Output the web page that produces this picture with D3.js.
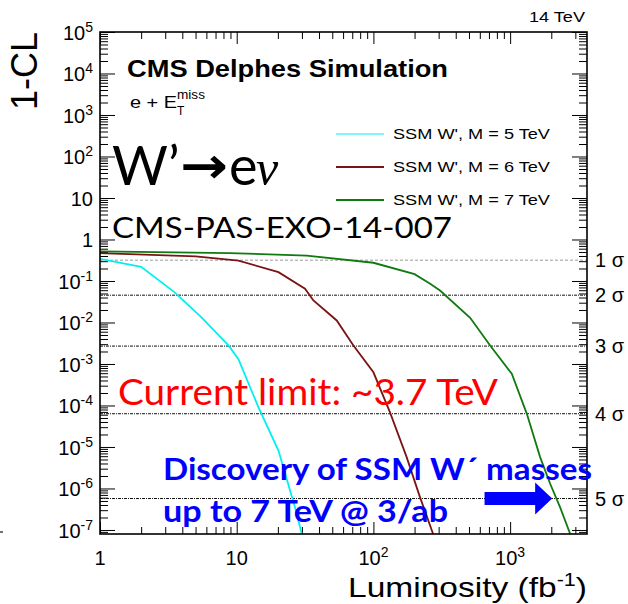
<!DOCTYPE html>
<html>
<head>
<meta charset="utf-8">
<script src="https://cdn.jsdelivr.net/npm/d3@7"></script>
<style>
  body { margin: 0; background: #fff; }
  svg { display: block; }
</style>
</head>
<body>
<svg id="chart" width="628" height="604"></svg>
<script>
// ---- data ----
const lumi5 = [1, 2.0, 3.5, 5.5, 8.7, 10.3, 14.4, 20.2, 26.7, 29.9];
const cl5 = [0.34, 0.22, 0.054, 0.0134, 0.0028, 0.0013, 9.1e-5, 8.2e-6, 3.5e-7, 8.1e-8];

const lumi6 = [1, 5, 10.3, 20.2, 31.6, 36.4, 53.9, 71.4, 100, 132, 175, 219, 273];
const cl6 = [0.47, 0.39, 0.31, 0.163, 0.065, 0.034, 0.0112, 0.0028, 6.3e-4, 6.9e-5, 5.7e-6, 6.2e-7, 8.1e-8];

const lumi7 = [1, 8.9, 32.5, 100, 200, 260, 307, 510, 714, 1028, 1325, 1657, 1962, 2322, 2748];
const cl7 = [0.52, 0.47, 0.41, 0.275, 0.146, 0.086, 0.059, 0.013, 0.0028, 5.8e-4, 6.3e-5, 5.7e-6, 1.3e-6, 3.5e-7, 8.1e-8];

const seriesNames = ["SSM W', M = 5 TeV", "SSM W', M = 6 TeV", "SSM W', M = 7 TeV"];
const seriesColors = ["#00f0f0", "#7a1414", "#0f7a0f"];

const sigmaLabels = ["1 σ", "2 σ", "3 σ", "4 σ", "5 σ"];
const sigmaValues = [0.3173, 0.0455, 0.0027, 6.33e-5, 5.73e-7];

const xMajor = [1, 10, 100, 1000];
const yExponents = [5, 4, 3, 2, 1, 0, -1, -2, -3, -4, -5, -6, -7];

// discovery arrow (data space): from / to luminosity along the 5 sigma line
const arrowLumi = [650, 2030];

// ---- scales ----
const svg = d3.select("#chart");
const plotLeft = 100, plotRight = 587, plotTop = 32, plotBottom = 534;
const x = d3.scaleLog().domain([1, 3650]).range([plotLeft, plotRight]);
const y = d3.scaleLog().domain([8e-8, 1e5]).range([plotBottom, plotTop]);

const xMinor = [];
for (let e = 0; e <= 3; e++)
  for (let k = 2; k <= 9; k++) {
    const v = k * Math.pow(10, e);
    if (v < 3650) xMinor.push(v);
  }
const yMinor = [];
for (let e = -8; e <= 4; e++)
  for (let k = 2; k <= 9; k++) {
    const v = k * Math.pow(10, e);
    if (v > 8e-8 && v < 1e5) yMinor.push(v);
  }

const fontRoot = "'Liberation Sans', Arial, Helvetica, sans-serif";
const fontSlide = "Lato, 'Open Sans', sans-serif";

svg.append("defs").append("clipPath").attr("id", "plotClip")
  .append("rect").attr("x", plotLeft).attr("y", plotTop)
  .attr("width", plotRight - plotLeft).attr("height", plotBottom - plotTop);

// ---- ticks (ROOT style, inward on all four sides) ----
function tickAxis(axis, transform) {
  const g = svg.append("g").attr("transform", transform).call(axis);
  g.select(".domain").remove();
  g.selectAll(".tick line").attr("stroke", "#000").attr("stroke-width", 1);
  g.selectAll(".tick text").remove();
  return g;
}
const yMajorVals = yExponents.map(e => Math.pow(10, e));
tickAxis(d3.axisLeft(y).tickValues(yMajorVals).tickSize(-15).tickSizeOuter(0), `translate(${plotLeft},0)`);
tickAxis(d3.axisLeft(y).tickValues(yMinor).tickSize(-8).tickSizeOuter(0), `translate(${plotLeft},0)`);
tickAxis(d3.axisRight(y).tickValues(yMajorVals).tickSize(-15).tickSizeOuter(0), `translate(${plotRight},0)`);
tickAxis(d3.axisRight(y).tickValues(yMinor).tickSize(-8).tickSizeOuter(0), `translate(${plotRight},0)`);
tickAxis(d3.axisBottom(x).tickValues(xMajor).tickSize(-12).tickSizeOuter(0), `translate(0,${plotBottom})`);
tickAxis(d3.axisBottom(x).tickValues(xMinor).tickSize(-7).tickSizeOuter(0), `translate(0,${plotBottom})`);
tickAxis(d3.axisTop(x).tickValues(xMajor).tickSize(-12).tickSizeOuter(0), `translate(0,${plotTop})`);
tickAxis(d3.axisTop(x).tickValues(xMinor).tickSize(-7).tickSizeOuter(0), `translate(0,${plotTop})`);

// ---- sigma reference lines ----
const sig = svg.append("g");
sig.selectAll("line").data(sigmaValues).join("line")
  .attr("x1", plotLeft).attr("x2", plotRight)
  .attr("y1", d => y(d)).attr("y2", d => y(d))
  .attr("stroke", (d, i) => i === 0 ? "#9a9a9a" : "#111")
  .attr("stroke-width", 1)
  .attr("stroke-dasharray", (d, i) => i === 0 ? "3,2" : "3,1,1,1");
sig.selectAll("text").data(sigmaValues).join("text")
  .attr("x", 595).attr("y", d => y(d) + 7)
  .attr("font-family", fontRoot).attr("font-size", 20)
  .text((d, i) => sigmaLabels[i]);

// ---- curves ----
const line = d3.line().x(d => x(d[0])).y(d => y(d[1]));
const curves = [d3.zip(lumi5, cl5), d3.zip(lumi6, cl6), d3.zip(lumi7, cl7)];
svg.append("g").attr("clip-path", "url(#plotClip)")
  .selectAll("path").data(curves).join("path")
  .attr("d", line)
  .attr("fill", "none")
  .attr("stroke", (d, i) => seriesColors[i])
  .attr("stroke-width", 1.8);

// ---- frame ----
svg.append("rect").attr("x", plotLeft).attr("y", plotTop)
  .attr("width", plotRight - plotLeft).attr("height", plotBottom - plotTop)
  .attr("fill", "none").attr("stroke", "#000").attr("stroke-width", 1.6);

// ---- tick labels ----
function powText(sel, e, supSize) {
  if (e === 0) { sel.text("1"); return; }
  if (e === 1) { sel.text("10"); return; }
  sel.append("tspan").text("10");
  sel.append("tspan").attr("dy", -8).attr("font-size", supSize).text(e);
}
svg.append("g").selectAll("text").data(yExponents).join("text")
  .attr("x", 93).attr("y", e => y(Math.pow(10, e)) + 8)
  .attr("text-anchor", "end")
  .attr("font-family", fontRoot).attr("font-size", 20)
  .each(function (e) { powText(d3.select(this), e, 14); });
svg.append("g").selectAll("text").data(xMajor).join("text")
  .attr("x", d => x(d)).attr("y", 565)
  .attr("text-anchor", "middle")
  .attr("font-family", fontRoot).attr("font-size", 20)
  .each(function (d) { powText(d3.select(this), Math.round(Math.log10(d)), 14); });

// ---- axis titles ----
svg.append("text")
  .attr("transform", "translate(37,110) rotate(-90)")
  .attr("font-family", fontRoot).attr("font-size", 36)
  .text("1-CL");
const xt = svg.append("text").attr("x", 348).attr("y", 597)
  .attr("font-family", fontRoot).attr("font-size", 28)
  .attr("textLength", 239).attr("lengthAdjust", "spacingAndGlyphs");
xt.append("tspan").text("Luminosity (fb");
xt.append("tspan").attr("dy", -11).attr("font-size", 18).text("-1");
xt.append("tspan").attr("dy", 11).text(")");

// ---- header texts ----
svg.append("text").attr("x", 585).attr("y", 22).attr("text-anchor", "end")
  .attr("font-family", fontRoot).attr("font-size", 15)
  .attr("textLength", 56).attr("lengthAdjust", "spacingAndGlyphs").text("14 TeV");
svg.append("text").attr("x", 127).attr("y", 77)
  .attr("font-family", fontRoot).attr("font-size", 24).attr("font-weight", "bold")
  .attr("textLength", 321).attr("lengthAdjust", "spacingAndGlyphs")
  .text("CMS Delphes Simulation");
svg.append("text").attr("x", 130).attr("y", 108)
  .attr("font-family", fontRoot).attr("font-size", 17)
  .attr("textLength", 47).attr("lengthAdjust", "spacingAndGlyphs")
  .text("e + E");
svg.append("text").attr("x", 177).attr("y", 99)
  .attr("font-family", fontRoot).attr("font-size", 12)
  .attr("textLength", 28).attr("lengthAdjust", "spacingAndGlyphs").text("miss");
svg.append("text").attr("x", 177).attr("y", 115)
  .attr("font-family", fontRoot).attr("font-size", 12).text("T");

// ---- legend ----
const leg = svg.append("g");
seriesNames.forEach((name, i) => {
  const yy = 134 + i * 33;
  leg.append("line").attr("x1", 336).attr("x2", 384).attr("y1", yy).attr("y2", yy)
    .attr("stroke", seriesColors[i]).attr("stroke-width", i === 0 ? 1.2 : 2);
  leg.append("text").attr("x", 393).attr("y", yy + 5)
    .attr("font-family", fontRoot).attr("font-size", 15)
    .attr("textLength", 157).attr("lengthAdjust", "spacingAndGlyphs")
    .text(name);
});

// ---- slide annotations ----
svg.append("text").attr("x", 112).attr("y", 185)
  .attr("font-family", fontSlide).attr("font-size", 54).text("W’");
svg.append("text").attr("x", 180).attr("y", 183)
  .attr("font-family", "'DejaVu Sans', sans-serif").attr("font-size", 50).attr("font-weight", "bold")
  .attr("textLength", 48).attr("lengthAdjust", "spacingAndGlyphs").text("→");
svg.append("text").attr("x", 229).attr("y", 185)
  .attr("font-family", fontSlide).attr("font-size", 54).text("e");
svg.append("text").attr("x", 256).attr("y", 185)
  .attr("font-family", "'Liberation Serif', serif").attr("font-style", "italic")
  .attr("font-size", 50).text("ν");

svg.append("text").attr("x", 112).attr("y", 238)
  .attr("font-family", fontSlide).attr("font-size", 29)
  .attr("textLength", 340).attr("lengthAdjust", "spacingAndGlyphs")
  .text("CMS-PAS-EXO-14-007");

svg.append("text").attr("x", 118).attr("y", 405)
  .attr("font-family", fontSlide).attr("font-size", 36).attr("fill", "#ff0000")
  .attr("textLength", 380).attr("lengthAdjust", "spacingAndGlyphs")
  .text("Current limit: ~3.7 TeV");

svg.append("text").attr("x", 163).attr("y", 480)
  .attr("font-family", fontSlide).attr("font-size", 31).attr("font-weight", "bold").attr("fill", "#0000ff")
  .attr("textLength", 429).attr("lengthAdjust", "spacingAndGlyphs")
  .text("Discovery of SSM W´ masses");
svg.append("text").attr("x", 163).attr("y", 522)
  .attr("font-family", fontSlide).attr("font-size", 31).attr("font-weight", "bold").attr("fill", "#0000ff")
  .attr("textLength", 285).attr("lengthAdjust", "spacingAndGlyphs")
  .text("up to 7 TeV @ 3/ab");

// blue arrow along the 5 sigma line
const ay = y(sigmaValues[4]);
const ax0 = x(arrowLumi[0]), ax1 = x(arrowLumi[1]);
const headLen = 17;
svg.append("path")
  .attr("d", `M${ax0},${ay - 6.5} L${ax1 - headLen},${ay - 6.5} L${ax1 - headLen},${ay - 16} L${ax1},${ay} L${ax1 - headLen},${ay + 16} L${ax1 - headLen},${ay + 6.5} L${ax0},${ay + 6.5} Z`)
  .attr("fill", "#0000ff");

// small leftover stroke at the left edge of the slide
svg.append("line").attr("x1", 0).attr("x2", 3).attr("y1", 532).attr("y2", 532)
  .attr("stroke", "#2f4f2f").attr("stroke-width", 1.5);
</script>
</body>
</html>
